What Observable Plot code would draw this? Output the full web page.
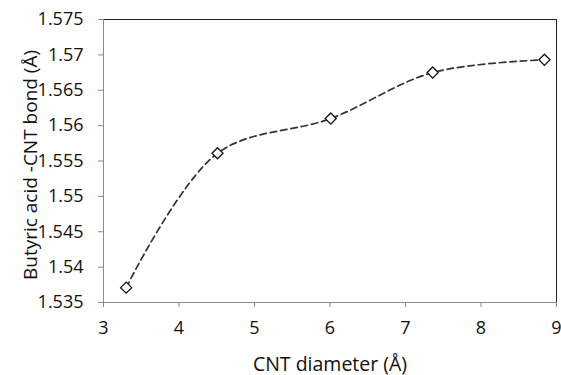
<!DOCTYPE html>
<html>
<head>
<meta charset="utf-8">
<script src="https://cdn.jsdelivr.net/npm/d3@7"></script>
<script src="https://cdn.jsdelivr.net/npm/@observablehq/plot@0.6"></script>
<style>
  html, body { margin: 0; padding: 0; background: #fff; }
  #chart svg { display: block; }
</style>
</head>
<body>
<div id="chart"></div>
<script>
const diameters = [3.30, 4.51, 6.01, 7.36, 8.84];
const bondLengths = [1.5371, 1.5561, 1.5610, 1.5675, 1.5693];
const xTicks = [3, 4, 5, 6, 7, 8, 9];
const yTicks = [1.535, 1.54, 1.545, 1.55, 1.555, 1.56, 1.565, 1.57, 1.575];
const xLabel = "CNT diameter (Å)";
const yLabel = "Butyric acid -CNT bond (Å)";

const data = diameters.map((d, i) => ({x: d, y: bondLengths[i]}));

const chart = Plot.plot({
  width: 561,
  height: 375,
  marginLeft: 103,
  marginRight: 5,
  marginTop: 19,
  marginBottom: 73,
  style: {fontFamily: "'Open Sans', sans-serif", fontSize: "18px", color: "#111", background: "#fff"},
  x: {domain: [3, 9]},
  y: {domain: [1.535, 1.575]},
  marks: [
    Plot.frame({stroke: "#222", strokeWidth: 1}),
    Plot.ruleX([3], {stroke: "#8a8a8a"}),
    Plot.ruleY([1.535], {stroke: "#8a8a8a"}),
    Plot.axisX({ticks: xTicks, tickFormat: d => String(d), tickSize: 5, tickPadding: 14, stroke: "#8a8a8a",
      fontSize: 18, label: null}),
    Plot.axisX({ticks: [], label: xLabel, labelAnchor: "center", labelArrow: "none", labelOffset: 68, fontSize: 19.5}),
    Plot.axisY({ticks: yTicks, tickFormat: d => String(+d.toFixed(3)), tickSize: 5, tickPadding: 15, stroke: "#8a8a8a",
      fontSize: 18, label: null}),
    Plot.text([yLabel], {text: d => d, frameAnchor: "left", textAnchor: "middle", lineAnchor: "middle",
      rotate: -90, dx: -73, dy: 4, fontSize: 19, fill: "#111"}),
    Plot.line(data, {x: "x", y: "y", curve: "catmull-rom", stroke: "#333", strokeWidth: 1.7, strokeDasharray: "6.5,4"}),
    Plot.dot(data, {x: "x", y: "y", symbol: "diamond2", r: 5, stroke: "#111", strokeWidth: 1.3, fill: "#fff"})
  ]
});
document.getElementById("chart").appendChild(chart);
</script>
</body>
</html>
